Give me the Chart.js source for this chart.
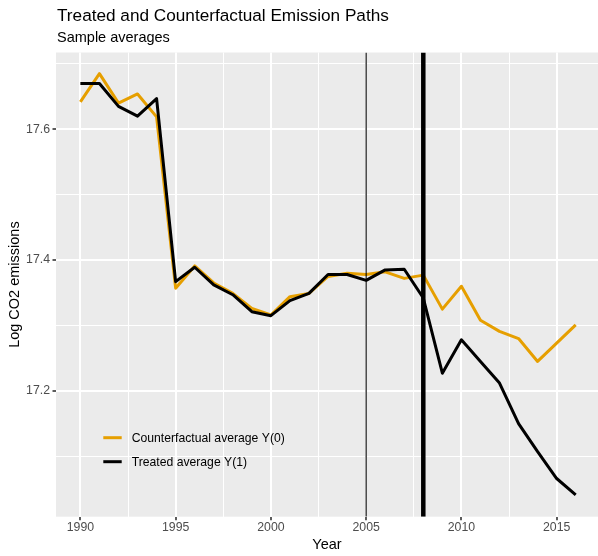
<!DOCTYPE html>
<html>
<head>
<meta charset="utf-8">
<script src="https://cdn.jsdelivr.net/npm/chart.js@4.4.1/dist/chart.umd.min.js"></script>
<style>
  html, body { margin: 0; padding: 0; background: #ffffff; }
  #wrap { width: 598px; height: 556px; }
</style>
</head>
<body>
<div id="wrap"><canvas id="c" width="598" height="556"></canvas></div>
<script>
// Annual sample averages of log CO2 emissions
const years = [1990, 1991, 1992, 1993, 1994, 1995, 1996, 1997, 1998, 1999,
               2000, 2001, 2002, 2003, 2004, 2005, 2006, 2007, 2008, 2009,
               2010, 2011, 2012, 2013, 2014, 2015, 2016];
const counterfactual = [17.642, 17.685, 17.640, 17.654, 17.619, 17.357, 17.391, 17.365, 17.349, 17.326,
                        17.316, 17.344, 17.349, 17.375, 17.380, 17.378, 17.382, 17.372, 17.377, 17.325,
                        17.360, 17.308, 17.291, 17.280, 17.245, 17.273, 17.301];
const treated = [17.670, 17.670, 17.635, 17.620, 17.647, 17.367, 17.389, 17.362, 17.347, 17.321,
                 17.315, 17.338, 17.349, 17.378, 17.378, 17.369, 17.385, 17.386, 17.342, 17.227,
                 17.278, 17.245, 17.212, 17.150, 17.107, 17.066, 17.041];

const seriesLabels = ['Counterfactual average Y(0)', 'Treated average Y(1)'];
const seriesColors = ['#E69F00', '#000000'];

// Reference years marked with vertical rules (thin, thick)
const markerYears = [2005, 2008];
const markerWidths = [1.1, 4.5];

// Axis ticks: labelled majors and unlabelled minor grid positions
const xMajorTicks = [1990, 1995, 2000, 2005, 2010, 2015];
const xMinorTicks = [1992.5, 1997.5, 2002.5, 2007.5, 2012.5];
const yMajorTicks = [17.2, 17.4, 17.6];
const yMinorTicks = [17.1, 17.3, 17.5, 17.7];

const xRange = [1988.72, 2017.17];
const yRange = [17.0076, 17.7174];

const titleText = 'Treated and Counterfactual Emission Paths';
const subtitleText = 'Sample averages';
const xTitle = 'Year';
const yTitle = 'Log CO2 emissions';

const FONT = '"Liberation Sans", Arial, Helvetica, sans-serif';
const PANEL_BG = '#EBEBEB';

const isMajor = (list, v) => list.some(m => Math.abs(m - v) < 1e-6);

const toPoints = vals => years.map((y, i) => ({ x: y, y: vals[i] }));

const markerSets = markerYears.map((yr, i) => ({
  data: [{ x: yr, y: yRange[0] }, { x: yr, y: yRange[1] }],
  borderColor: '#000000',
  borderWidth: markerWidths[i],
  borderCapStyle: 'butt',
  pointRadius: 0,
  order: 0
}));

const panelBackground = {
  id: 'panelBackground',
  beforeDraw(chart) {
    const { ctx, chartArea: a } = chart;
    ctx.save();
    ctx.fillStyle = '#ffffff';
    ctx.fillRect(0, 0, chart.width, chart.height);
    ctx.fillStyle = PANEL_BG;
    ctx.fillRect(a.left, a.top, a.right - a.left, a.bottom - a.top);
    ctx.restore();
  }
};

const headings = {
  id: 'headings',
  afterDraw(chart) {
    const { ctx, chartArea: a } = chart;
    ctx.save();
    ctx.fillStyle = '#000000';
    ctx.textAlign = 'left';
    ctx.textBaseline = 'alphabetic';
    ctx.font = '17.2px ' + FONT;
    ctx.fillText(titleText, a.left + 1, 21);
    ctx.font = '14.5px ' + FONT;
    ctx.fillText(subtitleText, a.left + 1, 41.5);
    ctx.restore();
  }
};

// Legend drawn inside the panel, in the order of seriesLabels
const insetLegend = {
  id: 'insetLegend',
  afterDraw(chart) {
    const { ctx } = chart;
    const items = seriesLabels.map(lbl => chart.data.datasets.find(d => d.label === lbl));
    ctx.save();
    ctx.font = '12.2px ' + FONT;
    ctx.textBaseline = 'middle';
    ctx.textAlign = 'left';
    items.forEach((d, i) => {
      const cy = 437.7 + i * 24;
      ctx.strokeStyle = d.borderColor;
      ctx.lineWidth = 3;
      ctx.lineCap = 'butt';
      ctx.beginPath();
      ctx.moveTo(103.3, cy);
      ctx.lineTo(121.7, cy);
      ctx.stroke();
      ctx.fillStyle = '#000000';
      ctx.fillText(d.label, 131.7, cy + 0.5);
    });
    ctx.restore();
  }
};

new Chart(document.getElementById('c'), {
  type: 'line',
  data: {
    datasets: [
      ...markerSets,
      {
        label: seriesLabels[1],
        data: toPoints(treated),
        borderColor: seriesColors[1],
        borderWidth: 3,
        borderJoinStyle: 'round',
        pointRadius: 0,
        tension: 0,
        order: 1
      },
      {
        label: seriesLabels[0],
        data: toPoints(counterfactual),
        borderColor: seriesColors[0],
        borderWidth: 3,
        borderJoinStyle: 'round',
        pointRadius: 0,
        tension: 0,
        order: 2
      }
    ]
  },
  options: {
    responsive: false,
    devicePixelRatio: 1,
    animation: false,
    events: [],
    layout: { padding: { top: 52.5, right: 0, bottom: 0, left: 0 } },
    plugins: {
      legend: { display: false },
      tooltip: { enabled: false },
      title: { display: false }
    },
    scales: {
      x: {
        type: 'linear',
        min: xRange[0],
        max: xRange[1],
        afterBuildTicks(axis) {
          axis.ticks = [...xMajorTicks, ...xMinorTicks].sort((a, b) => a - b).map(v => ({ value: v }));
        },
        afterFit(axis) { axis.height = 39.3; },
        border: { display: false },
        grid: {
          color: '#ffffff',
          lineWidth: c => isMajor(xMajorTicks, c.tick.value) ? 2 : 1,
          drawTicks: true,
          tickLength: 3.5,
          tickWidth: c => isMajor(xMajorTicks, c.tick.value) ? 1.6 : 0,
          tickColor: c => isMajor(xMajorTicks, c.tick.value) ? '#333333' : 'rgba(0,0,0,0)'
        },
        ticks: {
          autoSkip: false,
          maxRotation: 0,
          padding: 0.5,
          color: '#4D4D4D',
          font: { family: FONT, size: 12.3 },
          callback: v => isMajor(xMajorTicks, v) ? String(v) : ''
        },
        title: {
          display: true,
          text: xTitle,
          color: '#000000',
          font: { family: FONT, size: 14.5 },
          padding: { top: 0, bottom: 2.3 }
        }
      },
      y: {
        type: 'linear',
        min: yRange[0],
        max: yRange[1],
        afterBuildTicks(axis) {
          axis.ticks = [...yMajorTicks, ...yMinorTicks].sort((a, b) => a - b).map(v => ({ value: v }));
        },
        afterFit(axis) { axis.width = 56; },
        border: { display: false },
        grid: {
          color: '#ffffff',
          lineWidth: c => isMajor(yMajorTicks, c.tick.value) ? 2 : 1,
          drawTicks: true,
          tickLength: 3.5,
          tickWidth: c => isMajor(yMajorTicks, c.tick.value) ? 1.6 : 0,
          tickColor: c => isMajor(yMajorTicks, c.tick.value) ? '#333333' : 'rgba(0,0,0,0)'
        },
        ticks: {
          autoSkip: false,
          padding: 2.5,
          color: '#4D4D4D',
          font: { family: FONT, size: 12.3 },
          callback: v => isMajor(yMajorTicks, v) ? v.toFixed(1) : ''
        },
        title: {
          display: true,
          text: yTitle,
          color: '#000000',
          font: { family: FONT, size: 14.5 },
          padding: { top: 6.3, bottom: 0 }
        }
      }
    }
  },
  plugins: [panelBackground, headings, insetLegend]
});
</script>
</body>
</html>
